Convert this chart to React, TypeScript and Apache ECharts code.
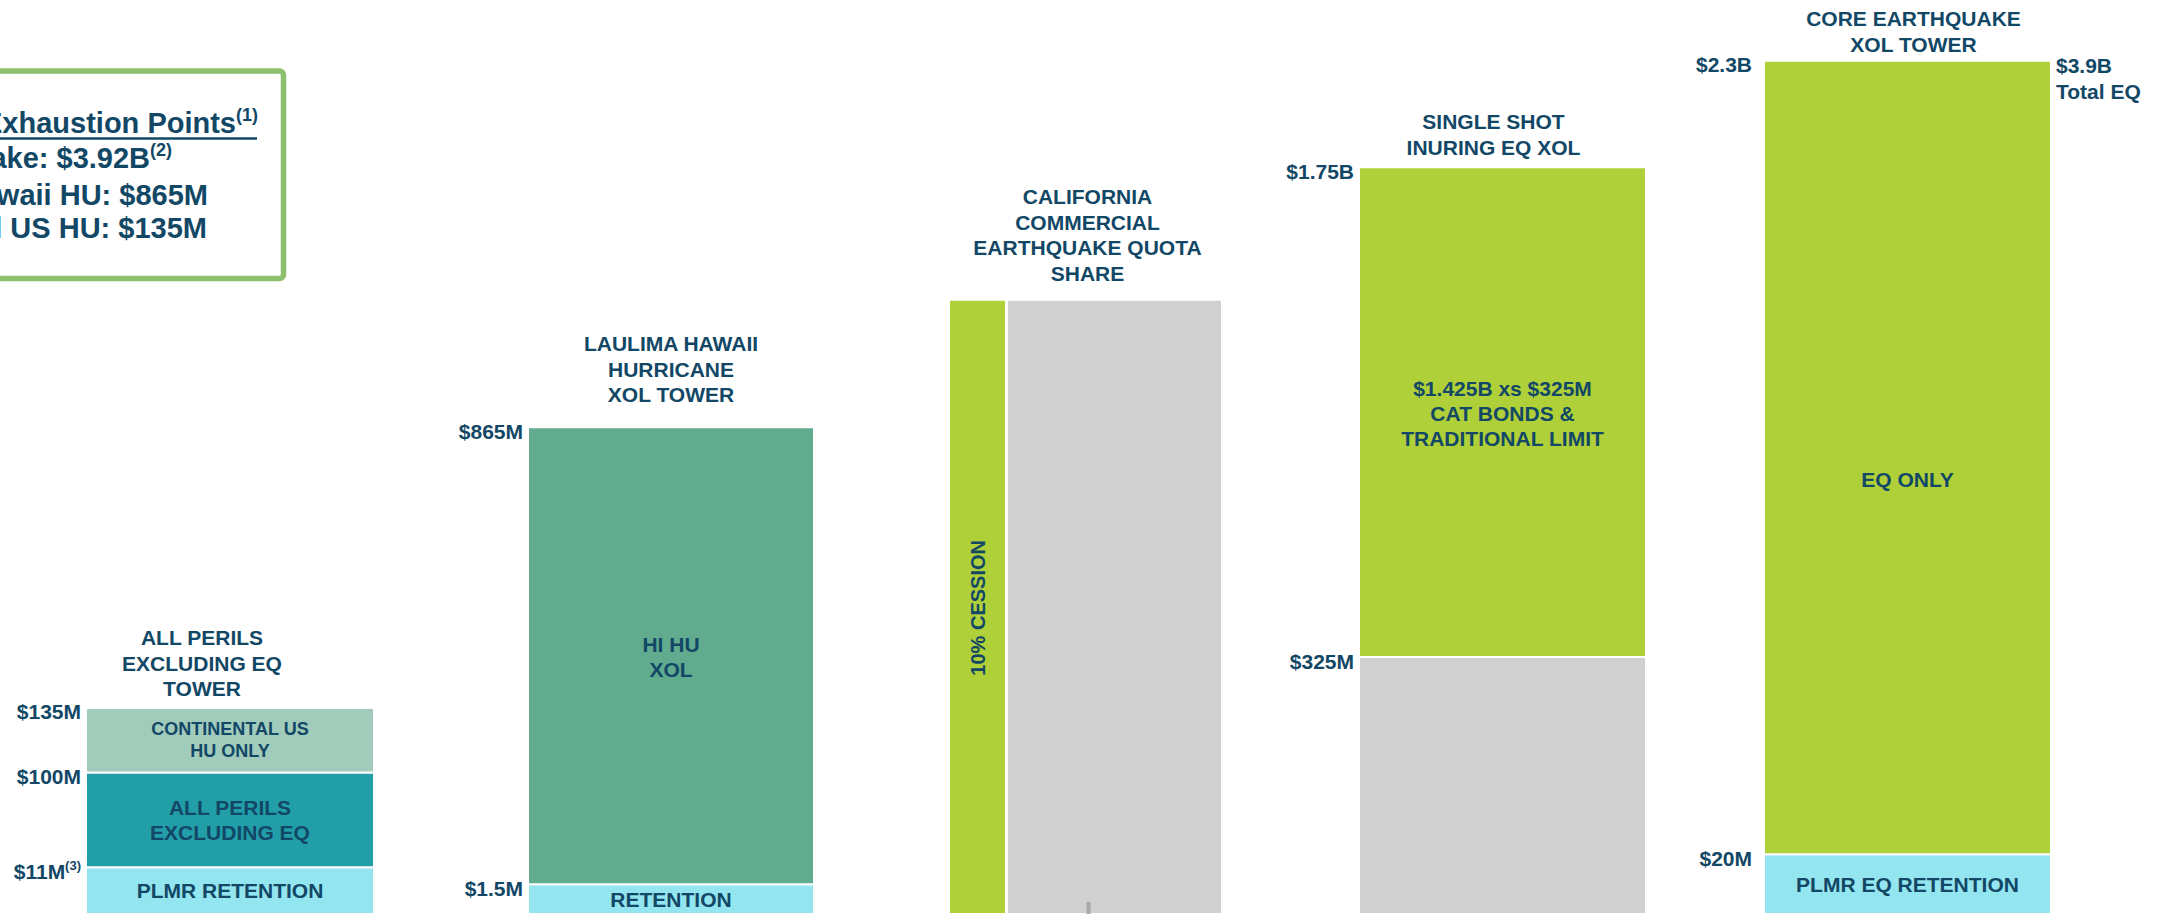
import React, { useEffect, useRef } from 'react';
import * as echarts from 'echarts';

// ---------- DATA ----------
const TOWER_KEYS = ['allPerils', 'laulima', 'caQuotaShare', 'singleShot', 'coreEq'];
const TOWER_TITLES = [
  'ALL PERILS\nEXCLUDING EQ\nTOWER',
  'LAULIMA HAWAII\nHURRICANE\nXOL TOWER',
  'CALIFORNIA\nCOMMERCIAL\nEARTHQUAKE QUOTA\nSHARE',
  'SINGLE SHOT\nINURING EQ XOL',
  'CORE EARTHQUAKE\nXOL TOWER',
];

// Layers (schematic heights: 0 = base of tower, not to scale across towers)
const LAYER_TOWER = [0, 0, 0, 1, 1, 2, 2, 3, 3, 4, 4];
const LAYER_NAMES = [
  'PLMR RETENTION',
  'ALL PERILS\nEXCLUDING EQ',
  'CONTINENTAL US\nHU ONLY',
  'RETENTION',
  'HI HU\nXOL',
  '10% CESSION',
  '',
  '',
  '$1.425B xs $325M\nCAT BONDS &\nTRADITIONAL LIMIT',
  'PLMR EQ RETENTION',
  'EQ ONLY',
];
const LAYER_LOW = [0, 47, 142, 0, 30, 0, 0, 0, 258, 0, 60];
const LAYER_HIGH = [47, 142, 207, 30, 489, 617, 617, 258, 750, 60, 857];
const LAYER_TOP_LABELS = ['$11M', '$100M', '$135M', '$1.5M', '$865M', '', '', '$325M', '$1.75B', '$20M', '$2.3B'];
const LAYER_TOP_NOTES = ['(3)', '', '', '', '', '', '', '', '', '', ''];
const LAYER_RIGHT_LABELS = ['', '', '', '', '', '', '', '', '', '', '$3.9B\nTotal EQ'];
const LAYER_IS_TOWER_TOP = [false, false, true, false, true, false, true, false, true, false, true];

const SUMMARY_TITLE = 'Exhaustion Points';
const SUMMARY_TITLE_NOTE = '(1)';
const SUMMARY_LINES = ['Earthquake: $3.92B', 'Hawaii HU: $865M', 'Continental US HU: $135M'];
const SUMMARY_NOTES = ['(2)', '', ''];

// ---------- STYLE / LAYOUT ----------
const NAVY = '#124766';
const FONT = '"Liberation Sans", Arial, Helvetica, sans-serif';
const CYAN = '#93e5ef';
const LIME = '#afd038';
const GRAY = '#d0d0d0';
const LAYER_COLORS = [CYAN, '#229ea9', '#a1cbbb', CYAN, '#61ab8e', LIME, GRAY, GRAY, LIME, CYAN, LIME];
const LAYER_SPAN = [
  [0, 1], [0, 1], [0, 1], [0, 1], [0, 1],
  [0, 0.209], [0.212, 1],
  [0, 1], [0, 1], [0, 1], [0, 1],
];
const LAYER_LABEL_SIZE = [21, 21, 18, 21, 21, 20, 21, 21, 21, 21, 21];
const LAYER_LABEL_DY = [0, 0, 0, 0, 1, 1, 0, 0, 1, 0, 22];
const LAYER_LABEL_ROTATE = [false, false, false, false, false, true, false, false, false, false, false];

const TOWER_LEFT = [86, 528, 949, 1359, 1764];
const TOWER_WIDTH = [288, 286, 273, 287, 287];
const TOWER_TITLE_GAP = [19, 32, 26, 20, 16];
const TOWER_TITLE_SHIFT = [-28, 0, 2, -9, 6];
const TOWER_LABEL_PAD = [5, 5, 5, 5, 12];
const Y_MAX = 918;

function renderLayer(_params: any, api: any) {
  const li = api.value(3) as number;
  const low = api.value(1) as number;
  const high = api.value(2) as number;
  const t = LAYER_TOWER[li];
  const pTop = api.coord([0, high]);
  const pBot = api.coord([0, low]);
  const band = api.size([1, 0])[0];
  const x0 = pTop[0] - band / 2;
  const span = LAYER_SPAN[li];
  const rx = x0 + span[0] * band;
  const rw = (span[1] - span[0]) * band;
  const children: any[] = [];

  children.push({
    type: 'rect',
    shape: { x: rx, y: pTop[1], width: rw, height: pBot[1] - pTop[1] },
    style: { fill: LAYER_COLORS[li], stroke: '#ffffff', lineWidth: 2 },
  });

  const name = LAYER_NAMES[li];
  if (name) {
    const fs = LAYER_LABEL_SIZE[li];
    children.push({
      type: 'text',
      x: rx + rw / 2,
      y: (pTop[1] + pBot[1]) / 2 + LAYER_LABEL_DY[li],
      rotation: LAYER_LABEL_ROTATE[li] ? Math.PI / 2 : 0,
      style: {
        text: name,
        fill: NAVY,
        fontSize: fs,
        fontWeight: 'bold',
        fontFamily: FONT,
        align: 'center',
        verticalAlign: 'middle',
        lineHeight: fs <= 18 ? 22 : 25,
      },
    });
  }

  const topLabel = LAYER_TOP_LABELS[li];
  if (topLabel) {
    const note = LAYER_TOP_NOTES[li];
    children.push({
      type: 'text',
      x: x0 - TOWER_LABEL_PAD[t],
      y: pTop[1] + 4,
      style: {
        text: note ? `{m|${topLabel}}{s|${note}}` : `{m|${topLabel}}`,
        fill: NAVY,
        align: 'right',
        verticalAlign: 'middle',
        rich: {
          m: { fill: NAVY, fontSize: 21, fontWeight: 'bold', fontFamily: FONT, lineHeight: 24 },
          s: { fill: NAVY, fontSize: 13, fontWeight: 'bold', fontFamily: FONT, verticalAlign: 'top', lineHeight: 14 },
        },
      },
    });
  }

  const rightLabel = LAYER_RIGHT_LABELS[li];
  if (rightLabel) {
    children.push({
      type: 'text',
      x: x0 + band + 5,
      y: pTop[1] - 8,
      style: {
        text: rightLabel,
        fill: NAVY,
        fontSize: 21,
        fontWeight: 'bold',
        fontFamily: FONT,
        align: 'left',
        verticalAlign: 'top',
        lineHeight: 26,
      },
    });
  }

  if (LAYER_IS_TOWER_TOP[li]) {
    children.push({
      type: 'text',
      x: x0 + band / 2 + TOWER_TITLE_SHIFT[t],
      y: pTop[1] - TOWER_TITLE_GAP[t] + 12.5,
      style: {
        text: TOWER_TITLES[t],
        fill: NAVY,
        fontSize: 21,
        fontWeight: 'bold',
        fontFamily: FONT,
        align: 'center',
        verticalAlign: 'bottom',
        lineHeight: 25.5,
      },
    });
  }

  return { type: 'group', children };
}

function buildOption() {
  const grids = TOWER_KEYS.map((_, i) => ({
    left: TOWER_LEFT[i],
    width: TOWER_WIDTH[i],
    top: 0,
    height: Y_MAX,
    containLabel: false,
  }));
  const xAxes = TOWER_KEYS.map((k, i) => ({
    type: 'category',
    gridIndex: i,
    data: [k],
    show: false,
    boundaryGap: true,
  }));
  const yAxes = TOWER_KEYS.map((_, i) => ({
    type: 'value',
    gridIndex: i,
    min: 0,
    max: Y_MAX,
    show: false,
  }));
  const series = TOWER_KEYS.map((_, i) => ({
    type: 'custom',
    coordinateSystem: 'cartesian2d',
    xAxisIndex: i,
    yAxisIndex: i,
    clip: false,
    silent: true,
    encode: { x: 0, y: [1, 2] },
    renderItem: renderLayer,
    data: LAYER_TOWER.map((t, li) => ({ t, li }))
      .filter((d) => d.t === i)
      .map((d) => [0, LAYER_LOW[d.li], LAYER_HIGH[d.li], d.li]),
  }));

  const richMain = { fill: NAVY, fontSize: 29, fontWeight: 'bold', fontFamily: FONT, lineHeight: 35 };
  const richSup = { fill: NAVY, fontSize: 18, fontWeight: 'bold', fontFamily: FONT, verticalAlign: 'top', lineHeight: 19 };
  const summaryRight = [172, 208, 207];
  const summaryY = [158, 195, 228];

  const graphic: any[] = [
    {
      type: 'rect',
      shape: { x: -60, y: 71, width: 343.5, height: 207.5, r: 4 },
      style: { fill: 'none', stroke: '#8cc06c', lineWidth: 5.5 },
      silent: true,
      z: 50,
    },
    {
      type: 'text',
      x: 258,
      y: 123,
      style: {
        text: `{m|${SUMMARY_TITLE}}{s|${SUMMARY_TITLE_NOTE}}`,
        fill: NAVY,
        align: 'right',
        verticalAlign: 'middle',
        rich: { m: richMain, s: richSup },
      },
      silent: true,
      z: 50,
    },
    {
      type: 'line',
      shape: { x1: -20, y1: 138.5, x2: 257, y2: 138.5 },
      style: { stroke: NAVY, lineWidth: 2.5 },
      silent: true,
      z: 50,
    },
    ...SUMMARY_LINES.map((line, i) => ({
      type: 'text',
      x: summaryRight[i],
      y: summaryY[i],
      style: {
        text: SUMMARY_NOTES[i] ? `{m|${line}}{s|${SUMMARY_NOTES[i]}}` : `{m|${line}}`,
        fill: NAVY,
        align: 'right',
        verticalAlign: 'middle',
        rich: { m: richMain, s: richSup },
      },
      silent: true,
      z: 50,
    })),
    {
      type: 'rect',
      shape: { x: 1086.5, y: 902, width: 4, height: 14 },
      style: { fill: '#a9a9a9' },
      silent: true,
      z: 100,
    },
  ];

  return {
    animation: false,
    backgroundColor: '#ffffff',
    grid: grids,
    xAxis: xAxes,
    yAxis: yAxes,
    series,
    graphic,
  };
}

export default function App() {
  const ref = useRef<HTMLDivElement>(null);
  useEffect(() => {
    document.body.style.margin = '0';
    if (!ref.current) return;
    const chart = echarts.init(ref.current, undefined, { renderer: 'svg' });
    chart.setOption(buildOption() as any);
    return () => chart.dispose();
  }, []);
  return (
    <div
      ref={ref}
      style={{ position: 'absolute', left: 0, top: 0, width: 2170, height: 914, background: '#fff' }}
    />
  );
}
